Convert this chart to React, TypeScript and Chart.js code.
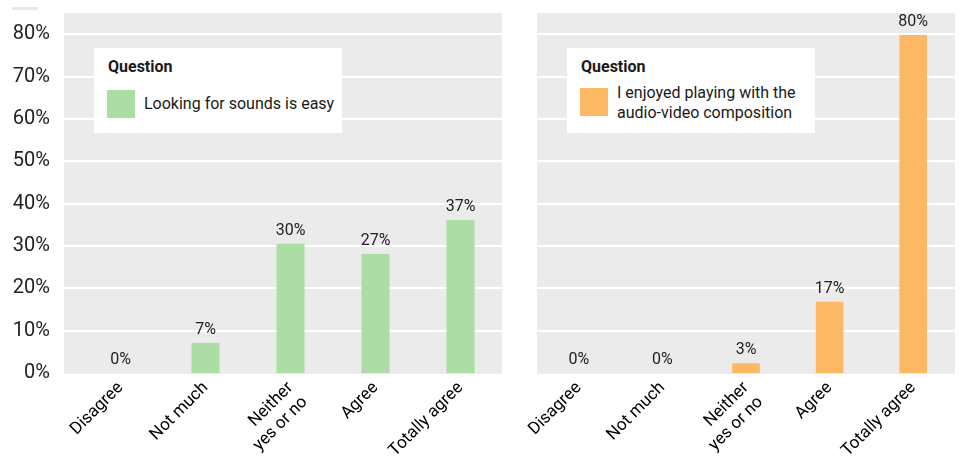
import React, { useEffect, useRef } from "react";
import { Chart, registerables } from "chart.js";

Chart.register(...registerables);
Chart.defaults.font.family = "Roboto";

const categories: (string | string[])[] = ["Disagree", "Not much", ["Neither", "yes or no"], "Agree", "Totally agree"];
const soundsValues = [0, 7.1, 30.5, 28.1, 36.1];
const soundsLabels = ["0%", "7%", "30%", "27%", "37%"];
const enjoyedValues = [0, 0, 2.3, 16.8, 79.8];
const enjoyedLabels = ["0%", "0%", "3%", "17%", "80%"];
const yTicks = [0, 10, 20, 30, 40, 50, 60, 70, 80];
const yMax = 85;

const legendTitle = "Question";
const soundsSeries = ["Looking for sounds is easy"];
const enjoyedSeries = ["I enjoyed playing with the", "audio-video composition"];

const GREEN = "#abdda4";
const ORANGE = "#fdb863";

const panelBg = {
  id: "panelBg",
  beforeDraw(chart: any, _args: any, opts: any) {
    const { ctx, chartArea: a, scales } = chart;
    const left = a.left - (opts.extendLeft || 0);
    const right = a.right - (opts.trimRight || 0);
    ctx.save();
    ctx.fillStyle = "#ebebeb";
    ctx.fillRect(left, a.top, right - left, a.bottom - a.top + 1);
    ctx.strokeStyle = "#ffffff";
    ctx.lineWidth = 2;
    yTicks.forEach((v) => {
      if (v === 0) return;
      const y = Math.round(scales.y.getPixelForValue(v));
      ctx.beginPath();
      ctx.moveTo(left, y);
      ctx.lineTo(right, y);
      ctx.stroke();
    });
    ctx.restore();
  },
};

const valueLabels = {
  id: "valueLabels",
  afterDatasetsDraw(chart: any, _args: any, opts: any) {
    const { ctx } = chart;
    const meta = chart.getDatasetMeta(0);
    ctx.save();
    ctx.fillStyle = "#222";
    ctx.font = "16px Roboto";
    ctx.textAlign = "center";
    ctx.textBaseline = "bottom";
    meta.data.forEach((bar: any, i: number) => {
      ctx.fillText(opts.labels[i], bar.x, bar.y - 5);
    });
    ctx.restore();
  },
};

function makeConfig(values: number[], labels: string[], color: string, showY: boolean, yWidth: number, padRight: number, extendLeft: number, trimRight: number): any {
  return {
    type: "bar",
    data: {
      labels: categories,
      datasets: [
        {
          data: values,
          backgroundColor: color,
          borderWidth: 0,
          barPercentage: 0.33,
          categoryPercentage: 1,
        },
      ],
    },
    options: {
      animation: false,
      responsive: false,
      devicePixelRatio: 1,
      layout: { padding: { top: 13, right: padRight, left: 0, bottom: 0 } },
      plugins: {
        legend: { display: false },
        tooltip: { enabled: false },
        panelBg: { extendLeft, trimRight },
        valueLabels: { labels },
      },
      scales: {
        x: {
          grid: { display: false, drawTicks: false },
          border: { display: false },
          ticks: {
            maxRotation: 45,
            minRotation: 45,
            padding: 5,
            color: "#000",
            font: { size: 17, family: "Roboto" },
          },
          afterFit: (s: any) => {
            s.height = 84;
          },
        },
        y: {
          min: 0,
          max: yMax,
          grid: { display: false, drawTicks: true, tickLength: 28 },
          border: { display: false },
          ticks: {
            display: showY,
            padding: 0,
            color: "#222",
            font: { size: 20, family: "Roboto" },
            callback: (v: any) => v + "%",
          },
          afterBuildTicks: (s: any) => {
            s.ticks = yTicks.map((v) => ({ value: v }));
          },
          afterFit: (s: any) => {
            s.width = yWidth;
          },
        },
      },
    },
    plugins: [panelBg, valueLabels],
  };
}

function Legend({ left, color, lines }: { left: number; color: string; lines: string[] }) {
  const twoLine = lines.length > 1;
  return (
    <div
      style={{
        position: "absolute",
        left,
        top: 48,
        width: 248,
        height: 85,
        background: "#fff",
        fontFamily: "Roboto",
        color: "#1a1a1a",
      }}
    >
      <div style={{ position: "absolute", left: 14, top: 9, fontSize: 16, fontWeight: 700, lineHeight: "20px" }}>{legendTitle}</div>
      <div style={{ position: "absolute", left: 13, top: twoLine ? 40 : 42, width: 28, height: 28, background: color }} />
      <div
        style={{
          position: "absolute",
          left: 50,
          top: twoLine ? 35 : 46,
          fontSize: 16,
          lineHeight: "20px",
          whiteSpace: "nowrap",
        }}
      >
        {lines.map((l, i) => (
          <div key={i}>{l}</div>
        ))}
      </div>
    </div>
  );
}

export default function App() {
  const leftRef = useRef<HTMLCanvasElement>(null);
  const rightRef = useRef<HTMLCanvasElement>(null);

  useEffect(() => {
    const c1 = new Chart(leftRef.current as HTMLCanvasElement, makeConfig(soundsValues, soundsLabels, GREEN, true, 78, 12, 14, 1));
    const c2 = new Chart(rightRef.current as HTMLCanvasElement, makeConfig(enjoyedValues, enjoyedLabels, ORANGE, false, 22, 5, 0, 0));
    return () => {
      c1.destroy();
      c2.destroy();
    };
  }, []);

  return (
    <div
      style={{
        position: "fixed",
        left: 0,
        top: 0,
        width: 960,
        height: 457,
        background: "#fff",
        overflow: "hidden",
        fontFamily: "Roboto",
      }}
    >
      <div style={{ position: "absolute", left: 12, top: 7, width: 26, height: 3, background: "#e8e8e8" }} />
      <canvas ref={leftRef} width={515} height={457} style={{ position: "absolute", left: 0, top: 0, width: 515, height: 457 }} />
      <canvas ref={rightRef} width={445} height={457} style={{ position: "absolute", left: 515, top: 0, width: 445, height: 457 }} />
      <Legend left={94} color={GREEN} lines={soundsSeries} />
      <Legend left={567} color={ORANGE} lines={enjoyedSeries} />
    </div>
  );
}
